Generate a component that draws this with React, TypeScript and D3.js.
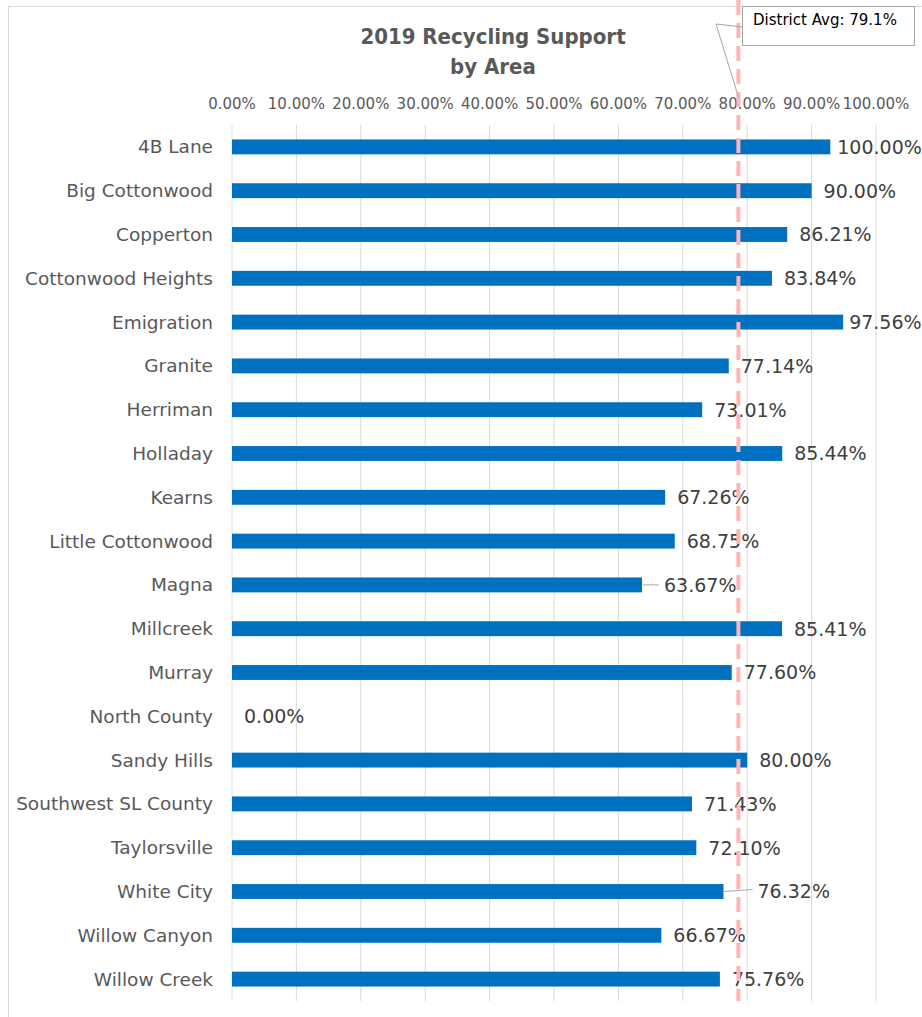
import React, { useEffect, useRef } from 'react';
import * as d3 from 'd3';

const AREAS = [
  '4B Lane', 'Big Cottonwood', 'Copperton', 'Cottonwood Heights', 'Emigration',
  'Granite', 'Herriman', 'Holladay', 'Kearns', 'Little Cottonwood',
  'Magna', 'Millcreek', 'Murray', 'North County', 'Sandy Hills',
  'Southwest SL County', 'Taylorsville', 'White City', 'Willow Canyon', 'Willow Creek',
];
// label values as printed
const SUPPORT = [
  100, 90, 86.21, 83.84, 97.56,
  77.14, 73.01, 85.44, 67.26, 68.75,
  63.67, 85.41, 77.6, 0, 80,
  71.43, 72.1, 76.32, 66.67, 75.76,
];
// bar lengths as drawn (two bars are shorter than their labels)
const BAR_LENGTH = [
  92.9, 90, 86.21, 83.84, 94.9,
  77.14, 73.01, 85.44, 67.26, 68.75,
  63.67, 85.41, 77.6, 0, 80,
  71.43, 72.1, 76.32, 66.67, 75.76,
];
const TICKS = [0, 10, 20, 30, 40, 50, 60, 70, 80, 90, 100];
const DISTRICT_AVG = 79.1;

const W = 922;
const H = 1017;
const FONT = '"DejaVu Sans", sans-serif';

export default function App() {
  const svgRef = useRef<SVGSVGElement>(null);

  useEffect(() => {
    if (!svgRef.current) return;
    const svg = d3.select(svgRef.current);
    svg.selectAll('*').remove();

    const x = d3.scaleLinear().domain([0, 100]).range([232, 876]);
    const y = d3.scaleBand<string>().domain(AREAS).range([125, 1001]).paddingInner(0.66).paddingOuter(0.33);
    const fmt = (v: number) => d3.format('.2%')(v / 100);

    // chart frame
    svg.append('rect')
      .attr('x', 8.5).attr('y', 6.5)
      .attr('width', 1000).attr('height', 1100)
      .attr('fill', '#fff')
      .attr('stroke', '#d9d9d9');

    // title
    const title = svg.append('text')
      .attr('text-anchor', 'middle')
      .attr('fill', '#595959')
      .attr('font-family', '"DejaVu Sans Condensed", "DejaVu Sans", sans-serif')
      .attr('font-stretch', 'condensed')
      .attr('font-weight', 'bold')
      .attr('font-size', '22px');
    title.append('tspan').attr('x', 493).attr('y', 44).text('2019 Recycling Support');
    title.append('tspan').attr('x', 493).attr('y', 74).text('by Area');

    // gridlines
    svg.append('g')
      .selectAll('line')
      .data(TICKS)
      .enter()
      .append('line')
      .attr('x1', (d) => x(d)).attr('x2', (d) => x(d))
      .attr('y1', 125).attr('y2', 1001)
      .attr('stroke', '#d9d9d9')
      .attr('stroke-width', 1);

    // top tick labels
    svg.append('g')
      .selectAll('text')
      .data(TICKS)
      .enter()
      .append('text')
      .attr('x', (d) => x(d))
      .attr('y', 109)
      .attr('text-anchor', 'middle')
      .attr('fill', '#595959')
      .attr('font-family', FONT)
      .attr('font-size', '15px')
      .text((d) => fmt(d));

    // category labels
    svg.append('g')
      .selectAll('text')
      .data(AREAS)
      .enter()
      .append('text')
      .attr('x', 213)
      .attr('y', (d) => y(d)! + y.bandwidth() / 2)
      .attr('dy', '0.35em')
      .attr('text-anchor', 'end')
      .attr('fill', '#595959')
      .attr('font-family', FONT)
      .attr('font-size', '18.5px')
      .text((d) => d);

    const rows = AREAS.map((name, i) => ({ name, value: SUPPORT[i], len: BAR_LENGTH[i] }));

    // bars
    svg.append('g')
      .selectAll('rect')
      .data(rows)
      .enter()
      .append('rect')
      .attr('x', x(0))
      .attr('y', (d) => y(d.name)!)
      .attr('width', (d) => x(d.len) - x(0))
      .attr('height', y.bandwidth())
      .attr('fill', '#0070c0');

    // data labels, a few were nudged in the original
    const shift: Record<string, number> = { '4B Lane': 7, Emigration: 6, Magna: 22, 'White City': 34 };
    const leader = new Set(['Magna', 'White City']);

    svg.append('g')
      .selectAll('line')
      .data(rows.filter((d) => leader.has(d.name)))
      .enter()
      .append('line')
      .attr('x1', (d) => x(d.len) + 1)
      .attr('x2', (d) => x(d.len) + shift[d.name] - 5)
      .attr('y1', (d) => y(d.name)! + y.bandwidth() / 2)
      .attr('y2', (d) => y(d.name)! + y.bandwidth() / 2 - (d.name === 'White City' ? 2 : 0))
      .attr('stroke', '#a6a6a6')
      .attr('stroke-width', 1);

    svg.append('g')
      .selectAll('text')
      .data(rows)
      .enter()
      .append('text')
      .attr('x', (d) => x(d.len) + (shift[d.name] ?? 12))
      .attr('y', (d) => y(d.name)! + y.bandwidth() / 2)
      .attr('dy', '0.36em')
      .attr('fill', '#404040')
      .attr('font-family', FONT)
      .attr('font-size', '19px')
      .text((d) => fmt(d.value));

    // district average line
    svg.append('line')
      .attr('x1', x(DISTRICT_AVG) - 3).attr('x2', x(DISTRICT_AVG) - 3)
      .attr('y1', 0).attr('y2', 1001)
      .attr('stroke', '#ffb5b5')
      .attr('stroke-width', 4)
      .attr('stroke-dasharray', '15 8');

    // callout
    svg.append('polyline')
      .attr('points', `742,27 716,24 ${x(DISTRICT_AVG) - 3},97`)
      .attr('fill', 'none')
      .attr('stroke', '#a6a6a6')
      .attr('stroke-width', 1);

    svg.append('rect')
      .attr('x', 742.5).attr('y', 6.5)
      .attr('width', 172).attr('height', 39)
      .attr('fill', '#fff')
      .attr('stroke', '#a6a6a6');

    svg.append('text')
      .attr('x', 753).attr('y', 25)
      .attr('fill', '#000')
      .attr('font-family', FONT)
      .attr('font-size', '15px')
      .text(`District Avg: ${DISTRICT_AVG}%`);
  }, []);

  return (
    <svg
      ref={svgRef}
      width={W}
      height={H}
      viewBox={`0 0 ${W} ${H}`}
      style={{ position: 'fixed', left: 0, top: 0, background: '#fff' }}
    />
  );
}
